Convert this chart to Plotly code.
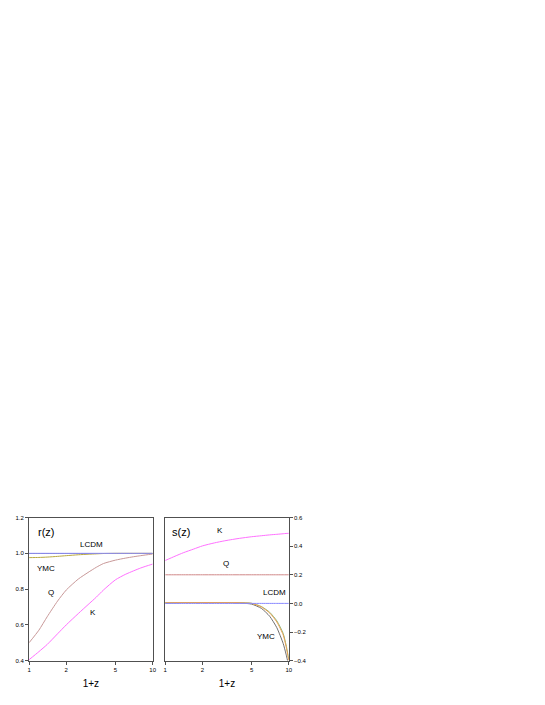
import math
import plotly.graph_objects as go

# 1+z sample points
x_pts = [1, 1.2, 1.4, 1.7, 2, 2.5, 3, 3.5, 4, 5, 6, 7, 8, 9, 9.5, 10]

# r(z) panel
r_lcdm = [1.0] * 16
r_ymc_gray = [0.999] * 16
r_ymc = [0.976, 0.977, 0.979, 0.983, 0.987, 0.992, 0.995, 0.997, 0.999, 1.0, 1.0, 1.0, 1.0, 1.0, 1.0, 1.0]
r_q = [0.50, 0.57, 0.645, 0.733, 0.795, 0.856, 0.893, 0.922, 0.943, 0.962, 0.973, 0.981, 0.987, 0.992, 0.994, 0.996]
r_k = [0.405, 0.45, 0.49, 0.55, 0.60, 0.663, 0.713, 0.755, 0.795, 0.852, 0.882, 0.902, 0.918, 0.93, 0.935, 0.94]

# s(z) panel
s_lcdm = [0.0] * 16
s_q = [0.2] * 16
s_k = [0.30, 0.33, 0.354, 0.38, 0.402, 0.423, 0.437, 0.447, 0.455, 0.466, 0.473, 0.479, 0.483, 0.487, 0.489, 0.49]
s_ymc_gray = [0.003, 0.004, 0.005, 0.005, 0.005, 0.005, 0.005, 0.004, 0.003, -0.005, -0.035, -0.09, -0.17, -0.28, -0.355, -0.44]
s_ymc_orange = [0.005, 0.006, 0.006, 0.006, 0.006, 0.006, 0.006, 0.006, 0.005, 0.0, -0.025, -0.067, -0.13, -0.22, -0.30, -0.40]
s_ymc_green = [0.004, 0.005, 0.006, 0.006, 0.006, 0.006, 0.006, 0.006, 0.005, 0.001, -0.022, -0.062, -0.122, -0.21, -0.29, -0.39]

x_ticks = [1, 2, 5, 10]
x_labels = ['1', '2', '5', '10']

fig = go.Figure()

def line(y, color, xa, ya):
    fig.add_trace(go.Scatter(x=x_pts, y=y, mode='lines', xaxis=xa, yaxis=ya,
                             line=dict(color=color, width=1, shape='spline', smoothing=0.6),
                             showlegend=False, hoverinfo='skip'))

line(r_q, '#c89898', 'x', 'y')
line(r_k, '#ff70ff', 'x', 'y')
line(r_ymc_gray, '#808080', 'x', 'y')
line(r_ymc, '#b8a840', 'x', 'y')
line(r_lcdm, '#8888ff', 'x', 'y')

line(s_k, '#ff70ff', 'x2', 'y2')
line(s_q, '#d08888', 'x2', 'y2')
line(s_ymc_gray, '#707070', 'x2', 'y2')
line(s_ymc_green, '#80b880', 'x2', 'y2')
line(s_ymc_orange, '#f0a050', 'x2', 'y2')
line(s_lcdm, '#8888ff', 'x2', 'y2')

font = dict(family='Liberation Sans, Arial, sans-serif', color='black')

xcommon = dict(type='log', range=[0, 1], tickvals=x_ticks, ticktext=x_labels,
               showgrid=False, zeroline=False, showline=True, mirror=True,
               linecolor='#505050', linewidth=1, ticks='outside', ticklen=3,
               tickcolor='#505050', tickfont=dict(size=6, **font),
               title=dict(text='1+z', font=dict(size=10, **font), standoff=8))
ycommon = dict(showgrid=False, zeroline=False, showline=True, mirror=True,
               linecolor='#505050', linewidth=1, ticks='outside', ticklen=3,
               tickcolor='#505050', tickfont=dict(size=6, **font), tickformat='.1f')

fig.update_layout(
    width=529, height=689,
    margin=dict(l=0, r=0, t=0, b=0),
    paper_bgcolor='white', plot_bgcolor='white',
    xaxis=dict(domain=[0.0365, 0.2728], anchor='y', **xcommon),
    yaxis=dict(domain=[0.0489, 0.2583], anchor='x', range=[0.4, 1.2],
               tickvals=[0.4, 0.6, 0.8, 1.0, 1.2], **ycommon),
    xaxis2=dict(domain=[0.2968, 0.5331], anchor='y2', **xcommon),
    yaxis2=dict(domain=[0.0489, 0.2583], anchor='x2', range=[-0.4, 0.6], side='right',
                tickvals=[-0.4, -0.2, 0.0, 0.2, 0.4, 0.6], **ycommon),
)

labels = [
    ('x', 'y', 1.39, 1.12, 'r(z)', 11),
    ('x', 'y', 3.17, 1.052, 'LCDM', 8),
    ('x', 'y', 1.37, 0.913, 'YMC', 8),
    ('x', 'y', 1.50, 0.782, 'Q', 8),
    ('x', 'y', 3.31, 0.67, 'K', 8),
    ('x2', 'y2', 1.335, 0.496, 's(z)', 11),
    ('x2', 'y2', 2.75, 0.512, 'K', 8),
    ('x2', 'y2', 3.08, 0.281, 'Q', 8),
    ('x2', 'y2', 7.73, 0.078, 'LCDM', 8),
    ('x2', 'y2', 6.58, -0.234, 'YMC', 8),
]
for xr, yr, xv, yv, txt, sz in labels:
    fig.add_annotation(x=math.log10(xv), y=yv, xref=xr, yref=yr, text=txt,
                       showarrow=False, font=dict(size=sz, **font))

fig.write_html("out.html")
